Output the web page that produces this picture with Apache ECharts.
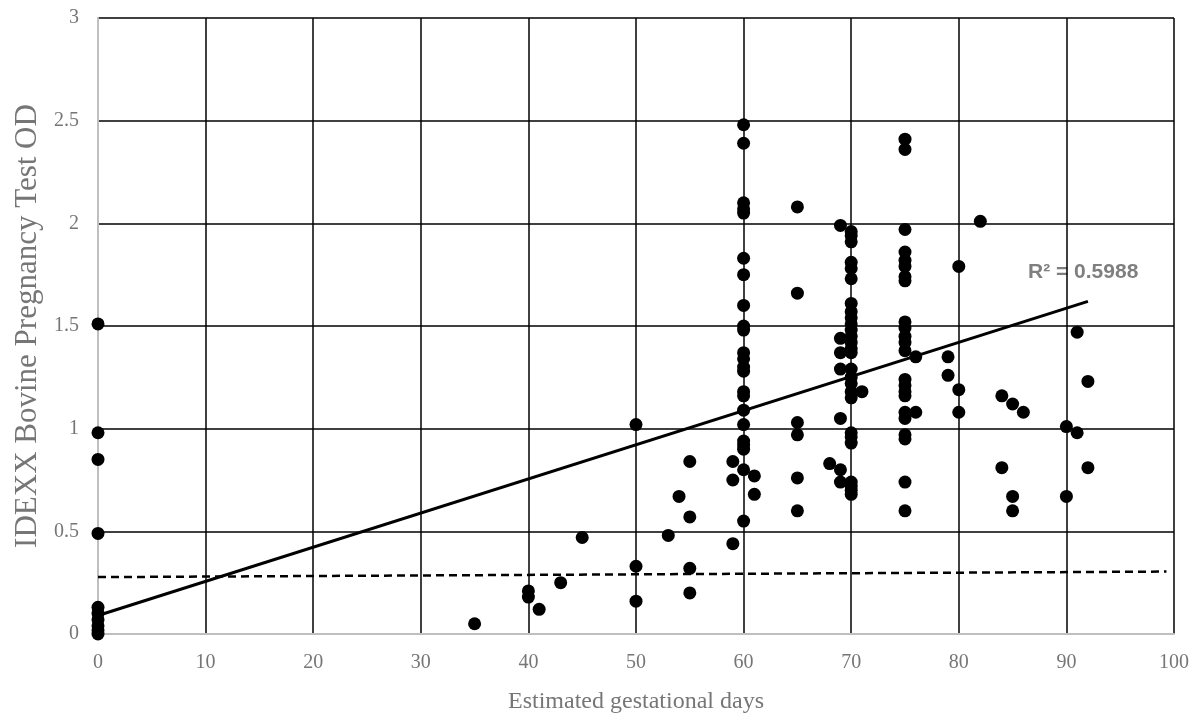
<!DOCTYPE html>
<html>
<head>
<meta charset="utf-8">
<script src="https://cdn.jsdelivr.net/npm/echarts@6/dist/echarts.min.js"></script>
<style>html,body{margin:0;padding:0;background:#fff;}#c{width:1197px;height:721px;}</style>
</head>
<body>
<div id="c"></div>
<script>
var days = [0,0,0,0,0,0,0,0,0,0,
  35,40,40,41,43,45,50,50,50,53,54,55,55,55,55,59,59,59,
  60,60,60,60,60,60,60,60,60,60,60,60,60,60,60,60,60,60,60,60,60,60,60,
  61,61,65,65,65,65,65,65,68,69,69,69,69,69,69,69,
  70,70,70,70,70,70,70,70,70,70,70,70,70,70,70,70,70,70,70,70,70,70,70,70,70,70,70,
  71,
  75,75,75,75,75,75,75,75,75,75,75,75,75,75,75,75,75,75,75,75,75,75,75,
  76,76,79,79,80,80,80,82,84,84,85,85,85,86,90,90,91,91,92,92];
var od = [1.51,0.98,0.85,0.49,0.13,0.10,0.07,0.04,0.02,0.00,
  0.05,0.21,0.18,0.12,0.25,0.47,1.02,0.33,0.16,0.48,0.67,0.84,0.57,0.32,0.20,0.84,0.75,0.44,
  2.48,2.39,2.10,2.07,2.05,1.83,1.75,1.60,1.50,1.48,1.37,1.34,1.30,1.28,1.18,1.16,1.09,1.02,0.94,0.92,0.90,0.80,0.55,
  0.77,0.68,2.08,1.66,1.03,0.97,0.76,0.60,0.83,1.99,1.44,1.37,1.29,1.05,0.80,0.74,
  1.96,1.94,1.91,1.81,1.78,1.73,1.61,1.57,1.54,1.51,1.48,1.45,1.42,1.39,1.37,1.29,1.25,1.22,1.18,1.15,0.98,0.96,0.93,0.74,0.72,0.70,0.68,
  1.18,
  2.41,2.36,1.97,1.86,1.82,1.79,1.74,1.72,1.52,1.49,1.45,1.42,1.38,1.24,1.21,1.18,1.16,1.08,1.05,0.97,0.95,0.74,0.60,
  1.35,1.08,1.35,1.26,1.79,1.19,1.08,2.01,1.16,0.81,1.12,0.67,0.60,1.08,1.01,0.67,1.47,0.98,1.23,0.81];
var trendLine = [[0,0.09],[92,1.62]];
var cutoffLine = [[0,0.277],[99.3,0.304]];
var xTicks = {min:0, max:100, step:10};
var yTicks = {min:0, max:3, step:0.5};
var xTitle = 'Estimated gestational days';
var yTitle = 'IDEXX Bovine Pregnancy Test OD';
var r2Text = 'R² = 0.5988';

var points = days.map(function(d,i){return [d, od[i]];});
var serif = '"Liberation Serif","DejaVu Serif",serif';
var gray = '#767676';
var chart = echarts.init(document.getElementById('c'));
chart.setOption({
  backgroundColor:'#fff',
  animation:false,
  grid:{left:98,right:23,top:18,bottom:87},
  xAxis:{type:'value',min:xTicks.min,max:xTicks.max,interval:xTicks.step,
    name:xTitle,nameLocation:'middle',nameGap:56,
    nameTextStyle:{fontFamily:serif,fontSize:24,color:gray},
    axisLine:{show:true,lineStyle:{color:'#bfbfbf',width:2}},
    axisTick:{show:false},
    axisLabel:{fontFamily:serif,fontSize:20,color:gray,margin:19},
    splitLine:{show:true,lineStyle:{color:'#000',width:1.5}}},
  yAxis:{type:'value',min:yTicks.min,max:yTicks.max,interval:yTicks.step,
    name:yTitle,nameLocation:'middle',nameGap:35,
    nameTextStyle:{fontFamily:serif,fontSize:31,color:gray},
    axisLine:{show:true,lineStyle:{color:'#bfbfbf',width:2}},
    axisTick:{show:false},
    axisLabel:{fontFamily:serif,fontSize:20,color:gray,margin:19},
    splitLine:{show:true,lineStyle:{color:'#000',width:1.5}}},
  series:[
    {type:'line',data:cutoffLine,symbol:'none',z:3,
      lineStyle:{color:'#000',width:2.5,type:[8,5]}},
    {type:'line',data:trendLine,symbol:'none',z:4,
      lineStyle:{color:'#000',width:3}},
    {type:'scatter',data:points,symbol:'circle',symbolSize:13,z:5,
      itemStyle:{color:'#000',opacity:1}}
  ],
  graphic:[{type:'text',left:1028,top:262,
    style:{text:r2Text,fontFamily:'"Liberation Sans",Arial,sans-serif',fontWeight:'bold',fontSize:21,fill:'#7f7f7f'}}]
});
</script>
</body>
</html>
